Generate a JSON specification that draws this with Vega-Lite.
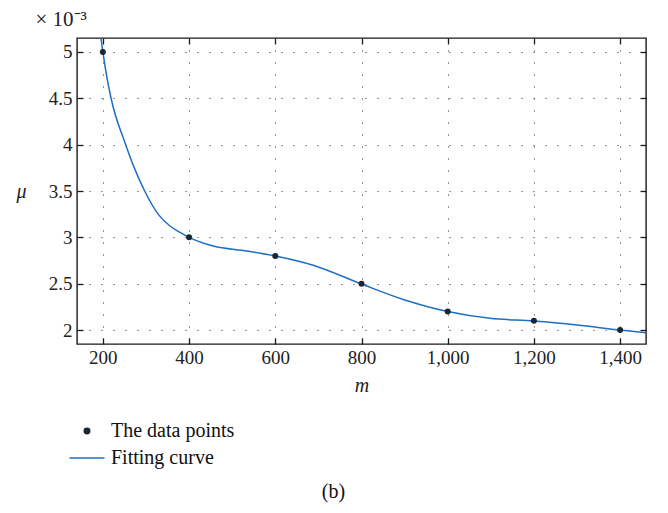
{
  "$schema": "https://vega.github.io/schema/vega-lite/v6.json",
  "width": 569,
  "height": 306,
  "autosize": {"type": "none"},
  "padding": {"left": 77, "top": 38, "right": 22, "bottom": 169},
  "background": "white",
  "title": {
    "text": "(b)",
    "orient": "bottom",
    "anchor": "middle",
    "frame": "group",
    "dx": -28,
    "offset": 14,
    "font": "Liberation Serif",
    "fontSize": 20,
    "fontWeight": "normal",
    "color": "#111"
  },
  "config": {
    "view": {"stroke": "#1a1a1a", "strokeWidth": 1.4},
    "axis": {
      "labelFont": "Liberation Serif",
      "labelFontSize": 19,
      "labelColor": "#222",
      "titleFont": "Liberation Serif",
      "titleFontSize": 20,
      "titleFontStyle": "italic",
      "titleFontWeight": "normal",
      "titleColor": "#222",
      "domain": false,
      "tickColor": "#1a1a1a",
      "tickWidth": 1.3,
      "gridColor": "#333",
      "gridDash": [1, 11],
      "gridWidth": 1,
      "gridOpacity": 1
    }
  },
  "datasets": {
    "curve": [
      {"m": 195, "mu": 5.17},
      {"m": 200, "mu": 5.0},
      {"m": 210, "mu": 4.71},
      {"m": 219, "mu": 4.5},
      {"m": 253, "mu": 4.0},
      {"m": 272, "mu": 3.76},
      {"m": 297, "mu": 3.5},
      {"m": 330, "mu": 3.24},
      {"m": 355, "mu": 3.125},
      {"m": 379, "mu": 3.054},
      {"m": 400, "mu": 3.0},
      {"m": 456, "mu": 2.906},
      {"m": 534, "mu": 2.853},
      {"m": 600, "mu": 2.8},
      {"m": 688, "mu": 2.7},
      {"m": 800, "mu": 2.497},
      {"m": 897, "mu": 2.33},
      {"m": 1000, "mu": 2.2},
      {"m": 1098, "mu": 2.127},
      {"m": 1200, "mu": 2.098},
      {"m": 1300, "mu": 2.055},
      {"m": 1400, "mu": 2.0},
      {"m": 1462, "mu": 1.97}
    ],
    "points": [
      {"m": 200, "mu": 5.0},
      {"m": 400, "mu": 3.0},
      {"m": 600, "mu": 2.8},
      {"m": 800, "mu": 2.5},
      {"m": 1000, "mu": 2.2},
      {"m": 1200, "mu": 2.1},
      {"m": 1400, "mu": 2.0}
    ]
  },
  "layer": [
    {
      "data": {"name": "curve"},
      "mark": {"type": "line", "clip": true, "strokeWidth": 1.5, "interpolate": "monotone"},
      "encoding": {
        "x": {
          "field": "m", "type": "quantitative",
          "scale": {"domain": [140, 1460], "nice": false, "zero": false},
          "axis": {
            "orient": "bottom", "title": "m", "values": [200, 400, 600, 800, 1000, 1200, 1400],
            "format": ",d", "grid": true, "tickSize": -6, "labelPadding": 10, "titlePadding": 8
          }
        },
        "y": {
          "field": "mu", "type": "quantitative",
          "scale": {"domain": [1.85, 5.15], "nice": false, "zero": false},
          "axis": {
            "orient": "left", "title": "μ", "values": [2, 2.5, 3, 3.5, 4, 4.5, 5],
            "format": ".1~f",
            "grid": true, "tickSize": -6, "labelPadding": 11, "titleAngle": 0,
            "titleX": -61, "titleAlign": "left", "titleBaseline": "middle"
          }
        },
        "color": {
          "datum": "Fitting curve",
          "scale": {"domain": ["The data points", "Fitting curve"], "range": ["#1b2633", "#1f6fc0"]},
          "legend": {
            "orient": "none", "legendX": 0, "legendY": 383, "title": null,
            "labelFont": "Liberation Serif", "labelFontSize": 20, "labelColor": "#111",
            "symbolSize": 1225, "labelOffset": 14, "rowPadding": 7,
            "encode": {
              "symbols": {
                "update": {
                  "shape": {"signal": "datum.value === 'Fitting curve' ? 'stroke' : 'circle'"},
                  "size": {"signal": "datum.value === 'Fitting curve' ? 1225 : 30"},
                  "fill": {"signal": "datum.value === 'Fitting curve' ? 'transparent' : '#1b2633'"},
                  "stroke": {"signal": "datum.value === 'Fitting curve' ? '#1f6fc0' : 'transparent'"},
                  "strokeWidth": {"value": 1.5},
                  "opacity": {"value": 1}
                }
              }
            }
          }
        }
      }
    },
    {
      "data": {"name": "points"},
      "mark": {"type": "point", "filled": true, "size": 36, "opacity": 1},
      "encoding": {
        "x": {
          "field": "m", "type": "quantitative",
          "axis": {
            "orient": "top", "title": "× 10⁻³", "values": [200, 400, 600, 800, 1000, 1200, 1400],
            "labels": false, "grid": false, "tickSize": -6,
            "titleFontStyle": "normal", "titleFontSize": 21,
            "titleX": -42, "titleY": -13, "titleAlign": "left", "titleBaseline": "alphabetic"
          }
        },
        "y": {
          "field": "mu", "type": "quantitative",
          "axis": {
            "orient": "right", "title": null, "values": [2, 2.5, 3, 3.5, 4, 4.5, 5],
            "labels": false, "grid": false, "tickSize": -6
          }
        },
        "color": {"datum": "The data points"}
      }
    }
  ],
  "resolve": {"axis": {"x": "independent", "y": "independent"}}
}
